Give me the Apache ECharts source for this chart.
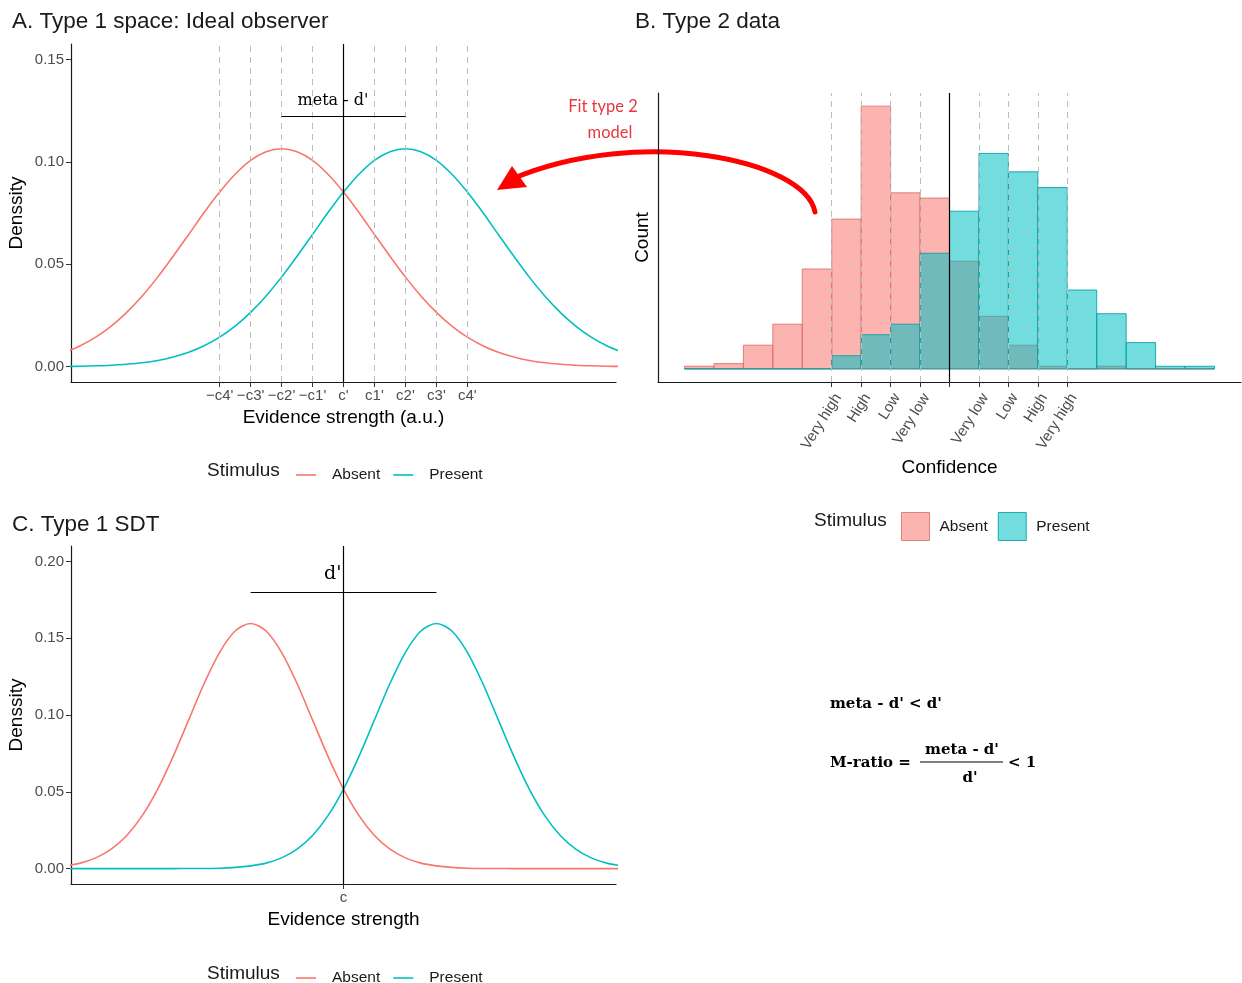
<!DOCTYPE html>
<html>
<head>
<meta charset="utf-8">
<script src="https://cdn.jsdelivr.net/npm/echarts@6/dist/echarts.min.js"></script>
<style>
  html, body { margin: 0; padding: 0; background: #ffffff; }
  #chart { width: 1242px; height: 983px; }
</style>
</head>
<body>
<div id="chart"></div>
<script>
// ---------- Panel A: type 1 space, ideal observer ----------
const type1X = [-9, -8.5, -8, -7.5, -7, -6.5, -6, -5.5, -5, -4.5, -4, -3.5, -3, -2.5, -2, -1.5, -1, -0.5, 0,
                0.5, 1, 1.5, 2, 2.5, 3, 3.5, 4, 4.5, 5, 5.5, 6, 6.5, 7, 7.5, 8, 8.5, 9];
const absentType1 = [0.0070, 0.0102, 0.0144, 0.0198, 0.0265, 0.0345, 0.0437, 0.0539, 0.0645, 0.0752,
                     0.0852, 0.0939, 0.1007, 0.1049, 0.1064, 0.1049, 0.1007, 0.0939, 0.0852, 0.0752,
                     0.0645, 0.0539, 0.0437, 0.0345, 0.0265, 0.0198, 0.0144, 0.0102, 0.0070, 0.0047,
                     0.0030, 0.0019, 0.0012, 0.0007, 0.0004, 0.0002, 0.0001];
const presentType1 = [0.0001, 0.0002, 0.0004, 0.0007, 0.0012, 0.0019, 0.0030, 0.0047, 0.0070, 0.0102,
                      0.0144, 0.0198, 0.0265, 0.0345, 0.0437, 0.0539, 0.0645, 0.0752, 0.0852, 0.0939,
                      0.1007, 0.1049, 0.1064, 0.1049, 0.1007, 0.0939, 0.0852, 0.0752, 0.0645, 0.0539,
                      0.0437, 0.0345, 0.0265, 0.0198, 0.0144, 0.0102, 0.0070];
const criterionPositions = [-4, -3, -2, -1, 0, 1, 2, 3, 4];
const criterionLabels = ["\u2212c4'", "\u2212c3'", "\u2212c2'", "\u2212c1'", "c'", "c1'", "c2'", "c3'", "c4'"];
const type1DensityTicks = [0, 0.05, 0.10, 0.15];
const metaDRange = [-2, 2];
const metaDBarY = 0.122;

// ---------- Panel B: type 2 data (confidence histogram) ----------
const binEdges = [-9, -8, -7, -6, -5, -4, -3, -2, -1, 0, 1, 2, 3, 4, 5, 6, 7, 8, 9];
const absentCounts  = [1, 2, 9, 17, 38, 57, 100, 67, 65, 41, 20, 9, 1, 0, 1, 0, 0, 0];
const presentCounts = [0, 0, 0, 0, 0, 5, 13, 17, 44, 60, 82, 75, 69, 30, 21, 10, 1, 1];
const confidenceTicks = [-4, -3, -2, -1, 0, 1, 2, 3, 4];
const confidencePositions = [-4, -3, -2, -1, 1, 2, 3, 4];
const confidenceLabels = ['Very high', 'High', 'Low', 'Very low', 'Very low', 'Low', 'High', 'Very high'];

// ---------- Panel C: type 1 SDT ----------
const sdtX = [-9, -8.5, -8, -7.5, -7, -6.5, -6, -5.5, -5, -4.5, -4, -3.5, -3, -2.5, -2, -1.5, -1, -0.5, 0,
              0.5, 1, 1.5, 2, 2.5, 3, 3.5, 4, 4.5, 5, 5.5, 6, 6.5, 7, 7.5, 8, 8.5, 9];
const absentSdt = [0.0018, 0.0036, 0.0070, 0.0127, 0.0216, 0.0345, 0.0518, 0.0731, 0.0968, 0.1205,
                   0.1408, 0.1547, 0.1596, 0.1547, 0.1408, 0.1205, 0.0968, 0.0731, 0.0518, 0.0345,
                   0.0216, 0.0127, 0.0070, 0.0036, 0.0018, 0.0008, 0.0003, 0.0001, 0.0001, 0, 0, 0, 0, 0, 0, 0, 0];
const presentSdt = [0, 0, 0, 0, 0, 0, 0, 0, 0.0001, 0.0001, 0.0003, 0.0008, 0.0018, 0.0036, 0.0070,
                    0.0127, 0.0216, 0.0345, 0.0518, 0.0731, 0.0968, 0.1205, 0.1408, 0.1547, 0.1596,
                    0.1547, 0.1408, 0.1205, 0.0968, 0.0731, 0.0518, 0.0345, 0.0216, 0.0127, 0.0070, 0.0036, 0.0018];
const sdtDensityTicks = [0, 0.05, 0.10, 0.15, 0.20];
const sdtCriterion = [0];
const sdtCriterionLabels = ['c'];
const dPrimeRange = [-3, 3];
const dPrimeBarY = 0.18;

// ---------- styling ----------
const SANS = "'Liberation Sans', Arial, sans-serif";
const SERIF = "'DejaVu Serif', serif";
const ABSENT = '#F8766D';
const PRESENT = '#00BFC4';
const ABSENT_FILL = 'rgba(248,118,109,0.55)';
const PRESENT_FILL = 'rgba(0,191,196,0.55)';
const ABSENT_EDGE = 'rgba(220,110,104,0.85)';
const PRESENT_EDGE = 'rgba(0,160,165,0.85)';
const TICK_TEXT = '#4d4d4d';
const AXIS = '#1a1a1a';
const CURVE_SMOOTH = 0.3;

function pairs(xs, ys) { return xs.map((x, i) => [x, ys[i]]); }
function hist(counts) { return counts.map((c, i) => [binEdges[i], binEdges[i + 1], c]); }
function fmt2(v) { return v.toFixed(2); }

const axisLine = { show: true, onZero: false, lineStyle: { color: AXIS, width: 1.2 } };
const tickStyle = { color: '#333', width: 1 };

function densityAxis(gridIndex, min, max, ticks) {
  return {
    type: 'value', gridIndex, min, max,
    axisLine,
    axisTick: { show: true, length: 5, lineStyle: tickStyle, customValues: ticks },
    axisLabel: { customValues: ticks, formatter: fmt2, color: TICK_TEXT, fontSize: 15, margin: 7, fontFamily: SANS },
    splitLine: { show: false },
    name: 'Denssity', nameLocation: 'middle', nameRotate: 90, nameGap: 45,
    nameTextStyle: { fontSize: 19, color: '#000', fontFamily: SANS }
  };
}

function histRender(fill, edge) {
  return function (params, api) {
    const p0 = api.coord([api.value(0), 0]);
    const p1 = api.coord([api.value(1), api.value(2)]);
    return {
      type: 'rect',
      shape: { x: p0[0], y: p1[1], width: p1[0] - p0[0], height: p0[1] - p1[1] },
      style: { fill, stroke: edge, lineWidth: 1 }
    };
  };
}

const dashed = { type: [6, 5], color: '#bdbdbd', width: 1 };
const solid = { type: 'solid', color: '#000', width: 1.2 };
function guideLines(xs, solidXs, bar) {
  const data = xs.map(v => ({ xAxis: v, lineStyle: dashed }))
    .concat(solidXs.map(v => ({ xAxis: v, lineStyle: solid })));
  if (bar) data.push([{ coord: [bar[0], bar[2]], lineStyle: solid }, { coord: [bar[1], bar[2]] }]);
  return {
    symbol: ['none', 'none'], silent: true, animation: false,
    label: { show: false }, emphasis: { disabled: true }, data
  };
}

function curve(name, xi, xs, ys, color) {
  return { type: 'line', name, xAxisIndex: xi, yAxisIndex: xi, data: pairs(xs, ys),
           smooth: CURVE_SMOOTH, symbol: 'none', color, lineStyle: { color, width: 1.6 }, z: 3, silent: true };
}

const titleStyle = { fontSize: 22.5, fontWeight: 'normal', color: '#1a1a1a', fontFamily: SANS };

const chart = echarts.init(document.getElementById('chart'), null, { renderer: 'canvas' });

const option = {
  animation: false,
  backgroundColor: '#ffffff',
  textStyle: { fontFamily: SANS },
  title: [
    { text: 'A. Type 1 space: Ideal observer', left: 12, top: 10, padding: 0, textStyle: titleStyle },
    { text: 'B. Type 2 data', left: 635, top: 10, padding: 0, textStyle: titleStyle },
    { text: 'C. Type 1 SDT', left: 12, top: 513, padding: 0, textStyle: titleStyle }
  ],
  grid: [
    { left: 71, top: 44, width: 545, height: 338 },
    { left: 658, top: 93, width: 583, height: 289 },
    { left: 71, top: 546, width: 545, height: 338 }
  ],
  xAxis: [
    {
      type: 'value', gridIndex: 0, min: -8.8, max: 8.8,
      axisLine,
      axisTick: { show: true, length: 5, lineStyle: tickStyle, customValues: criterionPositions },
      axisLabel: { customValues: criterionPositions, formatter: v => criterionLabels[criterionPositions.indexOf(v)],
                   color: TICK_TEXT, fontSize: 15, margin: 6, fontFamily: SANS },
      splitLine: { show: false },
      name: 'Evidence strength (a.u.)', nameLocation: 'middle', nameGap: 26,
      nameTextStyle: { fontSize: 19, color: '#000', fontFamily: SANS }
    },
    {
      type: 'value', gridIndex: 1, min: -9.9, max: 9.9,
      axisLine,
      axisTick: { show: true, length: 5, lineStyle: tickStyle, customValues: confidenceTicks },
      axisLabel: { customValues: confidencePositions, formatter: v => confidenceLabels[confidencePositions.indexOf(v)],
                   rotate: 58, verticalAlign: 'top', color: TICK_TEXT, fontSize: 15, margin: 9, fontFamily: SANS },
      splitLine: { show: false },
      name: 'Confidence', nameLocation: 'middle', nameGap: 76,
      nameTextStyle: { fontSize: 19, color: '#000', fontFamily: SANS }
    },
    {
      type: 'value', gridIndex: 2, min: -8.8, max: 8.8,
      axisLine,
      axisTick: { show: true, length: 5, lineStyle: tickStyle, customValues: sdtCriterion },
      axisLabel: { customValues: sdtCriterion, formatter: v => sdtCriterionLabels[sdtCriterion.indexOf(v)],
                   color: TICK_TEXT, fontSize: 15, margin: 6, fontFamily: SANS },
      splitLine: { show: false },
      name: 'Evidence strength', nameLocation: 'middle', nameGap: 26,
      nameTextStyle: { fontSize: 19, color: '#000', fontFamily: SANS }
    }
  ],
  yAxis: [
    densityAxis(0, -0.0075, 0.1575, type1DensityTicks),
    {
      type: 'value', gridIndex: 1, min: -5, max: 105,
      axisLine, axisTick: { show: false }, axisLabel: { show: false }, splitLine: { show: false },
      name: 'Count', nameLocation: 'middle', nameRotate: 90, nameGap: 6,
      nameTextStyle: { fontSize: 19, color: '#000', fontFamily: SANS }
    },
    densityAxis(2, -0.01, 0.21, sdtDensityTicks)
  ],
  legend: [
    {
      left: 291, top: 462, icon: 'rect', itemWidth: 20, itemHeight: 1.6, itemGap: 13, selectedMode: false,
      textStyle: { fontSize: 15.5, color: '#1a1a1a', padding: [0, 0, 0, 11], fontFamily: SANS },
      data: [{ name: 'Absent', itemStyle: { color: ABSENT, borderWidth: 0 } },
             { name: 'Present', itemStyle: { color: PRESENT, borderWidth: 0 } }]
    },
    {
      left: 896, top: 507, icon: 'rect', itemWidth: 28, itemHeight: 28, itemGap: 10, selectedMode: false,
      textStyle: { fontSize: 15.5, color: '#1a1a1a', padding: [0, 0, 0, 5], fontFamily: SANS },
      data: [{ name: 'Absent', itemStyle: { color: ABSENT_FILL, borderColor: ABSENT_EDGE, borderWidth: 1 } },
             { name: 'Present', itemStyle: { color: PRESENT_FILL, borderColor: PRESENT_EDGE, borderWidth: 1 } }]
    },
    {
      left: 291, top: 965, icon: 'rect', itemWidth: 20, itemHeight: 1.6, itemGap: 13, selectedMode: false,
      textStyle: { fontSize: 15.5, color: '#1a1a1a', padding: [0, 0, 0, 11], fontFamily: SANS },
      data: [{ name: 'Absent', itemStyle: { color: ABSENT, borderWidth: 0 } },
             { name: 'Present', itemStyle: { color: PRESENT, borderWidth: 0 } }]
    }
  ],
  series: [
    // Panel A: criteria, meta-d' bar, the two evidence distributions
    { type: 'line', name: 'criteria-A', xAxisIndex: 0, yAxisIndex: 0, data: [], silent: true, z: 1,
      markLine: guideLines(criterionPositions.filter(v => v !== 0), [0], [metaDRange[0], metaDRange[1], metaDBarY]) },
    curve('Absent', 0, type1X, absentType1, ABSENT),
    curve('Present', 0, type1X, presentType1, PRESENT),

    // Panel B: confidence histograms with the rating boundaries on top
    { type: 'custom', name: 'Absent', xAxisIndex: 1, yAxisIndex: 1, data: hist(absentCounts),
      encode: { x: [0, 1], y: 2 }, renderItem: histRender(ABSENT_FILL, ABSENT_EDGE), z: 2, silent: true },
    { type: 'custom', name: 'Present', xAxisIndex: 1, yAxisIndex: 1, data: hist(presentCounts),
      encode: { x: [0, 1], y: 2 }, renderItem: histRender(PRESENT_FILL, PRESENT_EDGE), z: 3, silent: true },
    { type: 'line', name: 'criteria-B', xAxisIndex: 1, yAxisIndex: 1, data: [], silent: true, z: 5,
      markLine: guideLines(confidencePositions, [0], null) },

    // Panel C: criterion, d' bar, the two evidence distributions
    { type: 'line', name: 'criteria-C', xAxisIndex: 2, yAxisIndex: 2, data: [], silent: true, z: 1,
      markLine: guideLines([], [0], [dPrimeRange[0], dPrimeRange[1], dPrimeBarY]) },
    curve('Absent', 2, sdtX, absentSdt, ABSENT),
    curve('Present', 2, sdtX, presentSdt, PRESENT)
  ]
};

chart.setOption(option);

// Annotations anchored to the data bars, plus the arrow and the ratio formula
const metaPx = chart.convertToPixel({ gridIndex: 0 }, [0, metaDBarY]);
const dPx = chart.convertToPixel({ gridIndex: 2 }, [0, dPrimeBarY]);

function txt(text, x, y, font, opts) {
  return { type: 'text', silent: true,
    style: Object.assign({ text, x, y, font, fill: '#000', align: 'left', verticalAlign: 'middle' }, opts || {}) };
}

chart.setOption({
  graphic: [
    txt('Stimulus', 207, 471, '19px ' + SANS, { fill: '#1a1a1a' }),
    txt('Stimulus', 814, 521, '19px ' + SANS, { fill: '#1a1a1a' }),
    txt('Stimulus', 207, 974, '19px ' + SANS, { fill: '#1a1a1a' }),

    txt("meta - d'", metaPx[0] - 46, metaPx[1] - 16, '16px ' + SERIF),
    txt("d'", dPx[0] - 2, dPx[1] - 18, '19px ' + SERIF, { align: 'right' }),

    txt('Fit type 2', 603, 107, '16.5px Lato, sans-serif', { fill: '#e8383d', align: 'center' }),
    txt('model', 610, 133, '16.5px Lato, sans-serif', { fill: '#e8383d', align: 'center' }),
    { type: 'bezierCurve', silent: true,
      shape: { x1: 815, y1: 212, cpx1: 805, cpy1: 160, cpx2: 640, cpy2: 125, x2: 512, y2: 179 },
      style: { stroke: '#ff0000', lineWidth: 5, fill: null, lineCap: 'round' } },
    { type: 'polygon', silent: true,
      shape: { points: [[497, 190], [512, 166], [527, 187]] },
      style: { fill: '#ff0000' } },

    txt("meta - d' < d'", 830, 704, 'bold 15px ' + SERIF),
    txt('M-ratio =', 830, 763, 'bold 15px ' + SERIF),
    txt("meta - d'", 962, 750, 'bold 15px ' + SERIF, { align: 'center' }),
    { type: 'line', silent: true, shape: { x1: 920, y1: 762, x2: 1003, y2: 762 },
      style: { stroke: '#000', lineWidth: 1.2 } },
    txt("d'", 970, 778, 'bold 15px ' + SERIF, { align: 'center' }),
    txt('< 1', 1008, 763, 'bold 15px ' + SERIF)
  ]
});
</script>
</body>
</html>
